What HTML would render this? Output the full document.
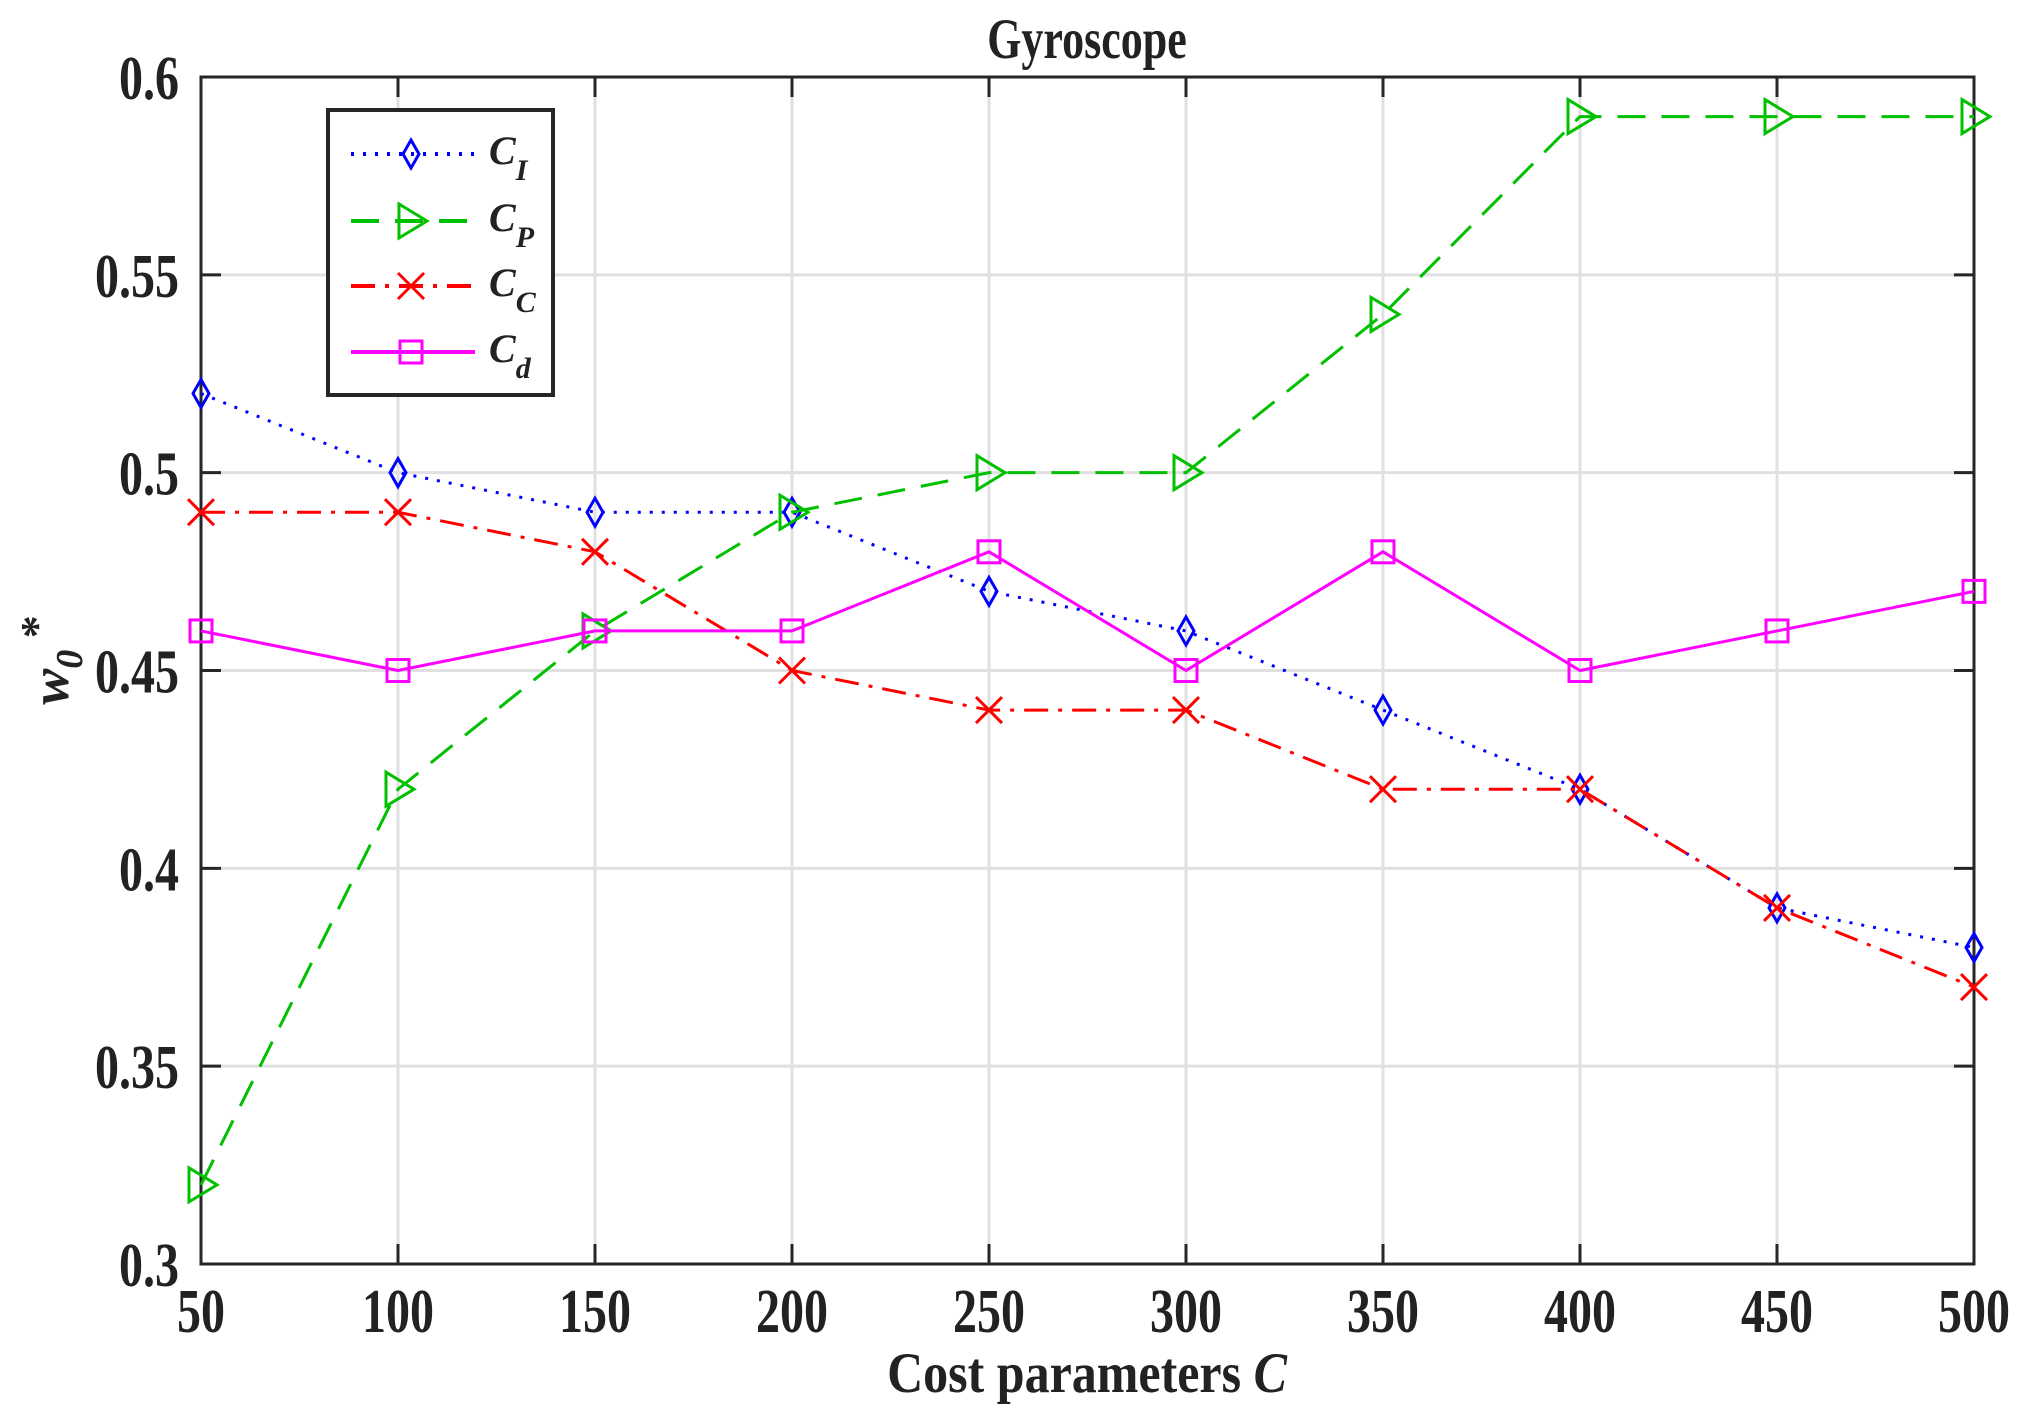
<!DOCTYPE html>
<html><head><meta charset="utf-8"><style>
body{margin:0;background:#fff}
svg text{font-family:"Liberation Serif",serif;font-weight:bold;fill:#222}
</style></head><body>
<svg id="s" width="2017" height="1415" xmlns="http://www.w3.org/2000/svg"></svg>
<script>
const s=document.getElementById('s');
const L=201,R=1974,T=77,B=1264;
const X=i=>L+(R-L)/9*i, Y=v=>T+(0.6-v)/0.3*(B-T);
let h='';
for(let i=0;i<10;i++){h+=`<line x1="${X(i)}" y1="${T}" x2="${X(i)}" y2="${B}" stroke="#e0e0e0" stroke-width="3"/>`;}
for(let k=0;k<7;k++){const y=T+(B-T)/6*k;h+=`<line x1="${L}" y1="${y}" x2="${R}" y2="${y}" stroke="#e0e0e0" stroke-width="3"/>`;}
const tt=(x,y,a,str,fs)=>`<text transform="translate(${x},${y}) scale(1,1.3)" font-size="${fs}" text-anchor="${a}">${str}</text>`;
for(let i=0;i<10;i++){h+=`<line x1="${X(i)}" y1="${B}" x2="${X(i)}" y2="${B-20}" stroke="#262626" stroke-width="3"/><line x1="${X(i)}" y1="${T}" x2="${X(i)}" y2="${T+20}" stroke="#262626" stroke-width="3"/>`;
 h+=tt(X(i),B+68,'middle',50+50*i,48);}
const yl=['0.6','0.55','0.5','0.45','0.4','0.35','0.3'];
for(let k=0;k<7;k++){const y=T+(B-T)/6*k;h+=`<line x1="${L}" y1="${y}" x2="${L+20}" y2="${y}" stroke="#262626" stroke-width="3"/><line x1="${R}" y1="${y}" x2="${R-20}" y2="${y}" stroke="#262626" stroke-width="3"/>`;
 h+=tt(L-22,y+22,'end',yl[k],48);}
h+=`<rect x="${L}" y="${T}" width="${R-L}" height="${B-T}" fill="none" stroke="#262626" stroke-width="3"/>`;
const mk={
 d:(x,y,c)=>`<polygon points="${x},${y-14} ${x+8},${y} ${x},${y+14} ${x-8},${y}" fill="none" stroke="${c}" stroke-width="3"/>`,
 t:(x,y,c)=>`<polygon points="${x-12},${y-17} ${x+16},${y} ${x-12},${y+17}" fill="none" stroke="${c}" stroke-width="3"/>`,
 x:(x,y,c)=>`<path d="M${x-13},${y-13}L${x+13},${y+13}M${x-13},${y+13}L${x+13},${y-13}" stroke="${c}" stroke-width="3"/>`,
 s:(x,y,c)=>`<rect x="${x-11}" y="${y-11}" width="22" height="22" fill="none" stroke="${c}" stroke-width="3"/>`
};
const S=[
 {d:[0.52,0.50,0.49,0.49,0.47,0.46,0.44,0.42,0.39,0.38],c:'#0000ff',da:'3,9',m:'d'},
 {d:[0.32,0.42,0.46,0.49,0.50,0.50,0.54,0.59,0.59,0.59],c:'#00c000',da:'28,16',m:'t'},
 {d:[0.49,0.49,0.48,0.45,0.44,0.44,0.42,0.42,0.39,0.37],c:'#ff0000',da:'24,10,4,10',m:'x'},
 {d:[0.46,0.45,0.46,0.46,0.48,0.45,0.48,0.45,0.46,0.47],c:'#ff00ff',da:'',m:'s'}
];
S.forEach(o=>{h+=`<polyline points="${o.d.map((v,i)=>X(i)+','+Y(v)).join(' ')}" fill="none" stroke="${o.c}" stroke-width="3" ${o.da?`stroke-dasharray="${o.da}"`:''}/>`;
 o.d.forEach((v,i)=>h+=mk[o.m](X(i),Y(v),o.c));});
h+=`<rect x="328" y="110" width="225" height="285" fill="#fff" stroke="#262626" stroke-width="4"/>`;
const ly=[154,221,286,352],sub=['I','P','C','d'];
S.forEach((o,k)=>{h+=`<line x1="351" y1="${ly[k]}" x2="475" y2="${ly[k]}" stroke="${o.c}" stroke-width="4" ${o.da?`stroke-dasharray="${o.da}"`:''}/>`+mk[o.m](411,ly[k],o.c);
 h+=`<text x="489" y="${ly[k]+10}" font-size="40" font-style="italic">C<tspan font-size="30" dy="16">${sub[k]}</tspan></text>`;});
h+=tt(1087,58,'middle','Gyroscope',44);
h+=`<text transform="translate(1087,1392) scale(1,1.15)" font-size="50" text-anchor="middle">Cost parameters <tspan font-style="italic">C</tspan></text>`;
h+=`<text transform="translate(68,660) rotate(-90)" font-size="54" text-anchor="middle" font-style="italic">w<tspan font-size="38" dy="14">0</tspan><tspan dy="-30" font-size="46" font-style="normal"> *</tspan></text>`;
s.innerHTML=h;
</script>
</body></html>
